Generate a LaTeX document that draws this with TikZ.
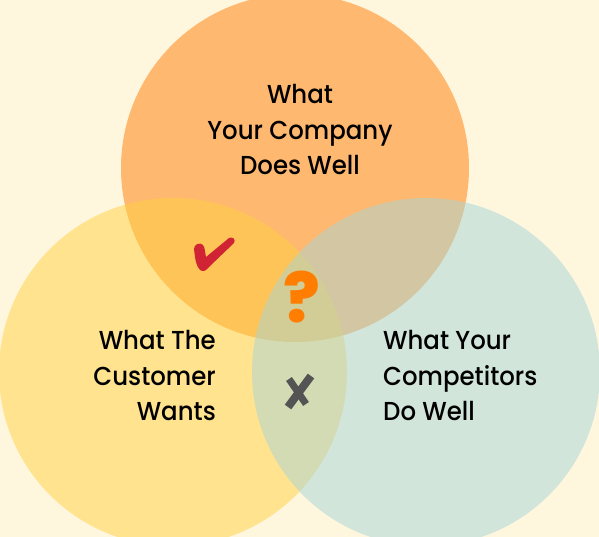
\documentclass[tikz,border=0pt]{standalone}
\usepackage{fontspec}
\setmainfont{Poppins}
\newfontfamily\vennfont{Poppins Medium}[FakeStretch=0.94]
\newfontfamily\markfont{Poppins ExtraBold}
\usepackage{tikz}

\definecolor{bgcream}{RGB}{255,246,222}
\definecolor{companyorange}{RGB}{255,184,112}
\definecolor{customeryellow}{RGB}{255,209,65}
\definecolor{rivalgreen}{RGB}{167,213,215}
\definecolor{checkred}{RGB}{208,36,52}
\definecolor{askorange}{RGB}{255,125,0}
\definecolor{crossgrey}{RGB}{84,84,84}

\begin{document}
\begin{tikzpicture}[x=1pt,y=-1pt]
\tikzstyle{every node}+=[inner sep=0pt]
\tikzstyle{vennlabel}=[font=\vennfont\fontsize{26}{36}\selectfont, text=black]
\useasboundingbox (0,0) rectangle (599,537);
\fill [bgcream] (0,0) rectangle (599,537);
% the three sets
\fill [companyorange] (295,168) circle (174);
\fill [customeryellow, fill opacity=0.5] (173,372) circle (174);
\fill [rivalgreen, fill opacity=0.5] (426,372) circle (174);
% set names
\node [vennlabel, anchor=base] (company1) at (300,104) {What};
\node [vennlabel, anchor=base] (company2) at (300,140) {Your Company};
\node [vennlabel, anchor=base] (company3) at (300,175) {Does Well};
\node [vennlabel, anchor=base east] (customer1) at (216,349) {What The};
\node [vennlabel, anchor=base east] (customer2) at (216,385) {Customer};
\node [vennlabel, anchor=base east] (customer3) at (216,420) {Wants};
\node [vennlabel, anchor=base west] (rival1) at (383,349) {What Your};
\node [vennlabel, anchor=base west] (rival2) at (383,385) {Competitors};
\node [vennlabel, anchor=base west] (rival3) at (383,420) {Do Well};
% marks in the overlaps
\fill [checkred] (194,249) .. controls (195,258) and (196,266) .. (200,270)
  .. controls (203,272) and (206,271) .. (209,267)
  -- (234,243) .. controls (236,240) and (233,236) .. (229,238)
  -- (206,257) .. controls (205,252) and (205,248) .. (203,245)
  .. controls (200,242) and (194,244) .. (194,249) -- cycle;
\node [font=\markfont\fontsize{68}{68}\selectfont, text=askorange, anchor=base] (unknown) at (302,322) {?};
\draw [crossgrey, line width=8pt] (288,407) -- (311,376);
\draw [crossgrey, line width=7pt] (289,379) -- (306,404);
\end{tikzpicture}
\end{document}
